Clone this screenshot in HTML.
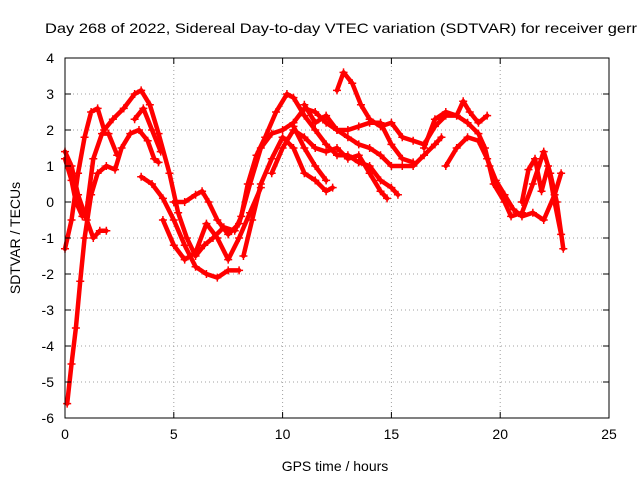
<!DOCTYPE html>
<html><head><meta charset="utf-8"><style>
body{margin:0;background:#fff;overflow:hidden}
svg{display:block;font-family:"Liberation Sans",sans-serif}
</style></head><body>
<svg id="chart" width="640" height="480">
<rect width="640" height="480" fill="#fff"/>
<text x="45" y="33" font-size="14" textLength="592" lengthAdjust="spacingAndGlyphs">Day 268 of 2022, Sidereal Day-to-day VTEC variation (SDTVAR) for receiver gerr</text>
<g id="grid"></g><g id="series"></g><g id="axes"></g>
<text x="335" y="471" font-size="14" text-anchor="middle">GPS time / hours</text>
<text transform="translate(20,238) rotate(-90)" font-size="14" text-anchor="middle">SDTVAR / TECUs</text>
</svg>
<script>
const xTicks=[0,5,10,15,20,25];
const yTicks=[4,3,2,1,0,-1,-2,-3,-4,-5,-6];
const tracks=[
[[0,-1.3],[0.3,-0.5],[0.6,0.8],[0.9,1.8],[1.2,2.5],[1.5,2.6],[1.8,2.0],[2.2,2.3],[2.7,2.6],[3.2,3.0],[3.5,3.1],[3.9,2.7],[4.3,1.9],[4.8,0.8],[5.2,-0.3],[5.6,-1.0],[6.0,-1.5],[6.4,-1.2],[6.8,-1.0],[7.3,-0.7],[7.8,-0.8],[8.1,-0.4],[8.4,0.5],[8.8,1.3],[9.2,1.8],[9.7,2.5],[10.2,3.0],[10.5,2.9],[11,2.4],[11.5,2.0],[12,1.6],[12.5,1.3],[13,1.3],[13.5,1.1],[14,1.0],[14.5,0.6],[15,0.4],[15.3,0.2]],
[[0,1.4],[0.3,1.0],[0.6,0.2],[1.0,-0.5],[1.3,-1.0],[1.6,-0.8],[1.9,-0.8]],
[[0.1,-5.6],[0.3,-4.5],[0.5,-3.5],[0.7,-2.2],[0.9,-1.0],[1.2,0.2],[1.5,0.8],[1.9,1.0],[2.3,0.9],[2.6,1.5],[3.0,1.9],[3.4,2.0],[3.8,1.7],[4.1,1.2],[4.3,1.1]],
[[0,1.2],[0.3,0.6],[0.5,0.0],[0.8,-0.4],[1.0,-0.2],[1.3,1.2],[1.7,1.9],[2.0,1.9],[2.4,1.3]],
[[3.5,0.7],[4,0.5],[4.5,0.1],[5,-0.5],[5.5,-1.2],[6,-1.8],[6.5,-2.0],[7,-2.1],[7.5,-1.9],[8,-1.9]],
[[5.0,0],[5.5,0],[6,0.2],[6.3,0.3],[6.6,0],[7,-0.5],[7.5,-0.9],[8,-0.6],[8.5,0.5],[9,1.5],[9.5,1.9],[10,2.0],[10.5,2.2],[11,2.6],[11.5,2.5],[12,2.2],[12.5,2.0],[13,1.8],[13.5,1.6],[14,1.5],[14.5,1.3],[15,1.0],[15.5,1.0],[16,1.0],[16.5,1.3],[17,1.6],[17.3,1.8]],
[[12.5,3.1],[12.8,3.6],[13.2,3.3],[13.6,2.7],[14,2.3],[14.5,2.1],[15,2.2],[15.5,1.8],[16,1.7],[16.5,1.6],[17,2.1],[17.5,2.4],[18,2.4],[18.5,2.2],[19,1.9],[19.3,1.5],[19.5,1.0],[19.7,0.5],[20.2,0.0],[20.5,-0.4],[21,-0.3],[21.5,0.5],[22,1.4],[22.3,0.8],[22.6,0.0],[22.9,-1.3]],
[[16.5,1.5],[17,2.3],[17.5,2.5],[18,2.4],[18.3,2.8],[18.6,2.5],[19,2.2],[19.4,2.4]],
[[17.5,1.0],[18,1.5],[18.5,1.8],[19,1.7],[19.4,1.2],[19.8,0.6],[20.2,0.2],[20.6,-0.2],[21,-0.4],[21.5,-0.3],[22,-0.5],[22.5,0.2],[22.8,0.8]],
[[21,0],[21.3,0.9],[21.6,1.2],[21.9,0.3],[22.2,1.0],[22.5,0.0],[22.8,-0.9]],
[[8.2,-1.5],[8.6,-0.5],[9,0.5],[9.5,1.2],[10,1.8],[10.5,1.5],[11,0.8],[11.5,0.6],[12,0.3],[12.3,0.4]],
[[9.5,0.8],[10,1.5],[10.5,2.0],[11,1.8],[11.5,1.5],[12,1.4],[12.5,1.5],[13,1.2],[13.5,1.3],[14,0.8],[14.5,0.3],[14.8,0.1]],
[[4.5,-0.5],[5,-1.2],[5.5,-1.6],[6,-1.4],[6.5,-0.6],[7,-1.0],[7.5,-1.6],[8,-1.0],[8.5,-0.3],[9,0.4]],
[[10.5,2.1],[11,1.5],[11.5,1.0],[12,0.6]],
[[3.2,2.3],[3.6,2.6],[4.0,2.0],[4.4,1.4]],
[[11,2.7],[11.5,2.2],[12,2.4],[12.5,2.0],[13,2.0],[13.5,2.1],[14,2.2],[14.5,2.2],[15,1.6],[15.5,1.2],[16,1.1]]
];
const X0=65,X1=609,Y0=58,Y1=418;
const xs=v=>X0+(v-0)/25*(X1-X0);
const ys=v=>Y0+(4-v)/10*(Y1-Y0);
const NS="http://www.w3.org/2000/svg";
function mk(tag,attrs,parent){const e=document.createElementNS(NS,tag);for(const k in attrs)e.setAttribute(k,attrs[k]);parent.appendChild(e);return e;}
const grid=document.getElementById('grid'),axes=document.getElementById('axes'),ser=document.getElementById('series');
xTicks.forEach(t=>{
 const x=xs(t);
 if(t>0&&t<25){const g=mk('line',{x1:x,x2:x,y1:Y0,y2:Y1,stroke:'#a0a0a0','stroke-dasharray':'1,3'},grid);
 
 }
 mk('line',{x1:x,x2:x,y1:Y1,y2:Y1-6,stroke:'#000'},axes);
 mk('line',{x1:x,x2:x,y1:Y0,y2:Y0+6,stroke:'#000'},axes);
 const l=mk('text',{x:x,y:Y1+21,'font-size':14,'text-anchor':'middle'},axes);l.textContent=t;
 
 
});
yTicks.forEach(t=>{
 const y=ys(t);
 if(t<4&&t>-6){const g=mk('line',{x1:X0,x2:X1,y1:y,y2:y,stroke:'#a0a0a0','stroke-dasharray':'1,3'},grid);
 
 }
 mk('line',{x1:X0,x2:X0+6,y1:y,y2:y,stroke:'#000'},axes);
 mk('line',{x1:X1,x2:X1-6,y1:y,y2:y,stroke:'#000'},axes);
 const l=mk('text',{x:X0-11,y:y+5,'font-size':14,'text-anchor':'end'},axes);l.textContent=t;
 
 
});
const fr=mk('rect',{x:X0,y:Y0,width:X1-X0,height:Y1-Y0,fill:'none',stroke:'#000'},axes);


tracks.forEach(tr=>{
 const g=mk('g',{},ser);
 
 
 mk('polyline',{points:tr.map(p=>xs(p[0])+','+ys(p[1])).join(' '),fill:'none',stroke:'#f00','stroke-width':4.5,'stroke-linejoin':'round','stroke-linecap':'round'},g);
 tr.forEach(p=>{const x=xs(p[0]),y=ys(p[1]);
  mk('path',{d:`M${x-4},${y}H${x+4}M${x},${y-4}V${y+4}`,stroke:'#f00','stroke-width':1.5},g);});
});
</script>
</body></html>
